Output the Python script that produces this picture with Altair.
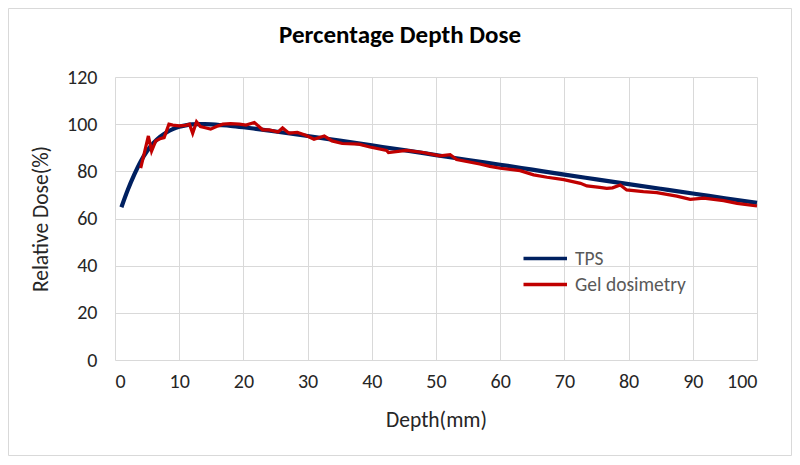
import altair as alt
import pandas as pd

# TPS (treatment planning system) curve
tps_depth = [1, 2, 3, 4, 5, 6, 7, 8, 9, 10, 11, 12, 13, 14, 15, 16, 18, 20, 22, 25,
             30, 35, 40, 45, 50, 55, 60, 65, 70, 75, 80, 85, 90, 95, 100]
tps_dose = [64.8, 72.2, 78.6, 84.2, 88.6, 92.0, 94.6, 96.5, 97.9, 98.9, 99.5, 99.9, 100.0,
            100.0, 99.9, 99.7, 99.3, 98.7, 98.0, 96.9, 95.0, 93.0, 91.0, 89.0, 86.9, 84.8,
            82.8, 80.7, 78.6, 76.6, 74.6, 72.6, 70.6, 68.6, 66.6]

# Gel dosimetry measurement
gel_depth = [4.0, 4.5, 5.2, 5.7, 6.35, 7.0, 7.65, 8.4, 9.0, 10.0, 11.0, 11.6, 12.1, 12.7,
             13.3, 13.9, 14.9, 15.8, 16.8, 18.0, 19.4, 20.4, 21.7, 23.0, 24.0, 25.4, 26.1,
             27.1, 28.4, 29.7, 31.0, 32.6, 33.8, 35.4, 38.0, 39.7, 42.3, 42.6, 45.4, 48.0,
             50.6, 52.2, 53.2, 56.8, 58.4, 60.0, 63.1, 65.2, 67.3, 69.9, 72.5, 73.5, 75.5,
             76.6, 77.5, 78.7, 79.7, 82.3, 84.4, 87.5, 89.6, 91.7, 94.8, 96.9, 100.0]
gel_dose = [81.4, 87.0, 95.0, 88.6, 92.9, 93.8, 94.3, 100.0, 99.6, 99.3, 99.5, 100.0, 96.1,
            101.0, 99.0, 98.6, 97.9, 99.0, 100.0, 100.2, 100.0, 99.6, 100.7, 97.6, 97.6,
            96.7, 98.4, 96.2, 96.5, 95.3, 93.6, 95.0, 92.9, 91.8, 91.5, 90.3, 88.9, 88.0,
            88.9, 88.0, 86.6, 87.1, 85.0, 83.1, 82.1, 81.3, 80.3, 78.5, 77.5, 76.5, 74.9,
            73.8, 73.2, 72.8, 73.0, 74.2, 72.1, 71.4, 71.0, 69.5, 68.1, 68.6, 67.6, 66.4,
            65.3]

series_names = ["TPS", "Gel dosimetry"]
series_colors = ["#002060", "#C00000"]
x_ticks = [0, 10, 20, 30, 40, 50, 60, 70, 80, 90, 100]
y_ticks = [0, 20, 40, 60, 80, 100, 120]
chart_title = ["Percentage Depth Dose"]

tps_df = pd.DataFrame({"depth": tps_depth, "dose": tps_dose, "series": "TPS"})
gel_df = pd.DataFrame({"depth": gel_depth, "dose": gel_dose, "series": "Gel dosimetry"})

FONT = "Carlito, Lato, sans-serif"
W, H = 642, 283
PL, PT, PR, PB = 107, 69, 35, 96

x_enc = alt.X("depth:Q", title="Depth(mm)",
              scale=alt.Scale(domain=[0, 100], nice=False),
              axis=alt.Axis(values=x_ticks))
y_enc = alt.Y("dose:Q", title="Relative Dose(%)",
              scale=alt.Scale(domain=[0, 120], nice=False),
              axis=alt.Axis(values=y_ticks))
color_enc = alt.Color(
    "series:N",
    scale=alt.Scale(domain=series_names, range=series_colors),
    legend=alt.Legend(
        title=None, orient="none", legendX=421, legendY=165,
        symbolType="M-2,0H1", symbolSize=841, symbolStrokeWidth=3.5,
        labelFontSize=19.5, labelColor="#595959", labelFont=FONT,
        labelOffset=6, rowPadding=0, padding=0,
    ),
    sort=series_names,
)

tps_line = alt.Chart(tps_df).mark_line(
    strokeWidth=4.2, interpolate="monotone"
).encode(x=x_enc, y=y_enc, color=color_enc)

gel_line = alt.Chart(gel_df).mark_line(
    strokeWidth=3.2
).encode(x=x_enc, y=y_enc, color=color_enc)

frame = alt.Chart(pd.DataFrame({"k": [0]})).mark_rect(
    fill="transparent", stroke="#D9D9D9", strokeWidth=1
).encode(
    x=alt.value(-PL + 0.5), x2=alt.value(W + PR - 0.5),
    y=alt.value(-PT + 0.5), y2=alt.value(H + PB - 0.5),
)

title_text = alt.Chart(pd.DataFrame({"t": chart_title})).mark_text(
    font=FONT, fontSize=25, fontWeight="bold", color="#000000",
    align="center", baseline="middle",
).encode(text="t:N", x=alt.value(285), y=alt.value(-42))

chart = alt.layer(frame, tps_line, gel_line, title_text).properties(
    width=W, height=H,
    autosize=alt.AutoSizeParams(type="none"),
    padding={"left": PL, "top": PT, "right": PR, "bottom": PB},
).configure_view(stroke=None).configure_axis(
    grid=True, gridColor="#D9D9D9", gridWidth=1,
    domain=False, ticks=False,
    labelFont=FONT, labelFontSize=20, labelColor="#262626",
    titleFont=FONT, titleFontSize=21.5, titleFontWeight="normal", titleColor="#262626",
).configure_axisX(
    labelPadding=11, titlePadding=18,
).configure_axisY(
    labelPadding=18, titlePadding=14,
)

chart.save("out.html", embed_options={"renderer": "svg", "actions": False})
